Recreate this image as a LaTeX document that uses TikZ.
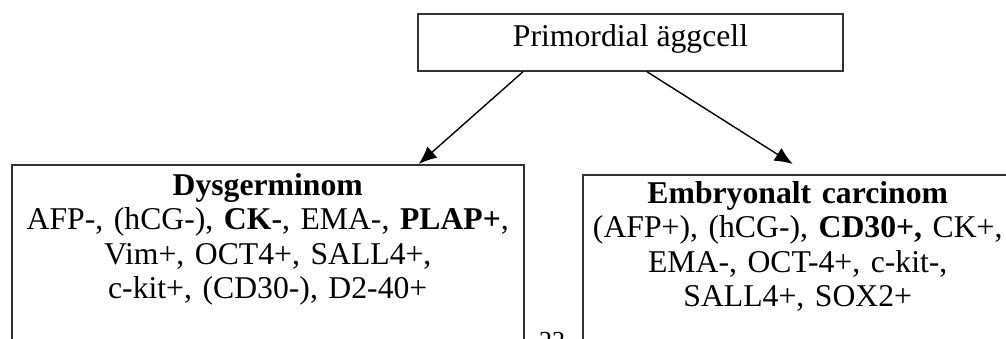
\documentclass[tikz,border=0pt]{standalone}
\usepackage{fontspec}
\setmainfont{Liberation Serif}
\usetikzlibrary{arrows.meta,positioning}

\begin{document}
\begin{tikzpicture}[x=1pt,y=-1pt,
  box/.style={draw=black!80,line width=1.5pt,rectangle},
  txt/.style={align=center,inner sep=0pt,font=\fontsize{31.7}{34.5}\selectfont},
  arr/.style={line width=1.4pt,-{Latex[length=18pt,width=15pt]}}]
\useasboundingbox (0,0) rectangle (1006,338);
\clip (0,0) rectangle (1006,338);

\node[box,txt,minimum width=425pt,minimum height=57pt,text height=25pt,text depth=18pt] (prim) at (630.5,42.5) {Primordial äggcell};

% left box, runs past the bottom edge
\node[box,minimum width=512pt,minimum height=220pt,anchor=north west] (dys) at (11,164) {};
\node[txt,text width=500pt,anchor=base] (dystxt) at ([yshift=-31pt]dys.north)
  {\textbf{Dysgerminom}\\AFP-, (hCG-), \textbf{CK-}, EMA-, \textbf{PLAP+},\\Vim+, OCT4+, SALL4+,\\c-kit+, (CD30-), D2-40+};

% right box, runs past the right edge
\node[box,minimum width=430pt,minimum height=220pt,anchor=north west] (emb) at (582,174) {};
\node[txt,text width=430pt,anchor=base] (embtxt) at ([yshift=-29pt]emb.north)
  {\textbf{Embryonalt carcinom}\\(AFP+), (hCG-), \textbf{CD30+,} CK+,\\EMA-, OCT-4+, c-kit-,\\SALL4+, SOX2+};

\node[font=\fontsize{26}{28}\selectfont,anchor=base,inner sep=0pt] (pnum) at (552,349) {22};

\draw[arr] ([xshift=-107.5pt]prim.south) -- ([xshift=151pt]dys.north);
\draw[arr] ([xshift=16.5pt]prim.south) -- ([xshift=-5pt,yshift=10pt]emb.north);
\end{tikzpicture}
\end{document}
